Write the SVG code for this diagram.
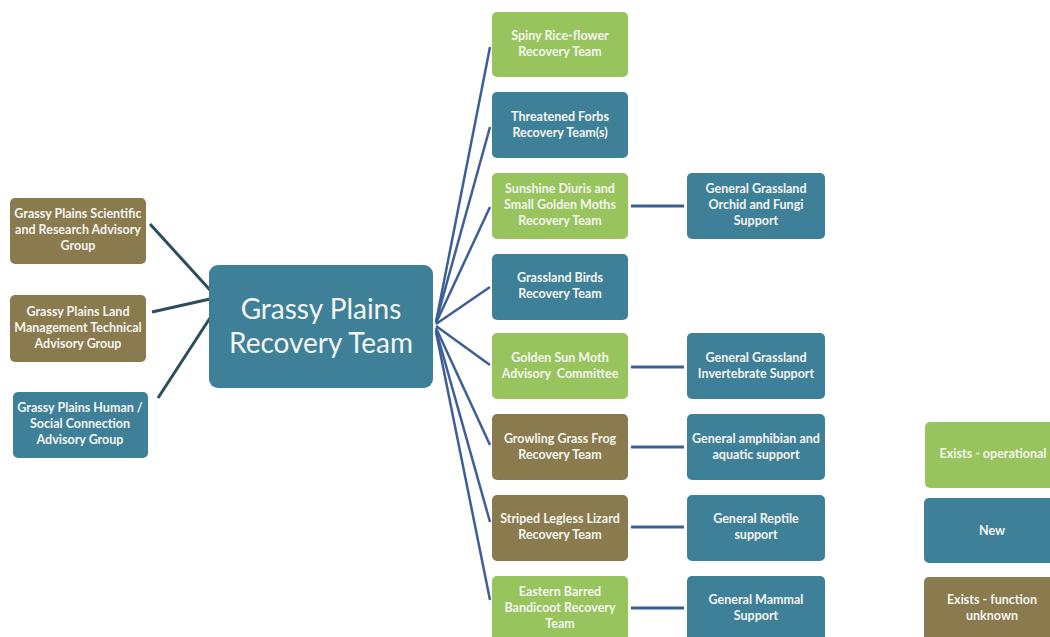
<svg xmlns="http://www.w3.org/2000/svg" width="1050" height="637" viewBox="0 0 1050 637">
<style>
.g{fill:#97c45c}
.b{fill:#3f8099}
.o{fill:#897b4e}
text{font-family:Lato,"Open Sans","Liberation Sans",sans-serif;fill:#f4f4f0;text-anchor:middle;font-weight:bold;font-size:12.5px}
.big{font-size:28px;font-weight:normal}
.fan{stroke:#3d5f98;stroke-width:2.5;fill:none}
.lft{stroke:#2b4d5c;stroke-width:3;fill:none}
.h{stroke:#3d5f98;stroke-width:3;fill:none}
</style>
<rect width="1050" height="637" fill="#ffffff"/>
<g id="connectors">
<line class="lft" x1="150" y1="224" x2="210" y2="290"/>
<line class="lft" x1="152" y1="312" x2="210" y2="299"/>
<line class="lft" x1="158" y1="398" x2="210" y2="318"/>
<line class="fan" x1="436" y1="322" x2="490" y2="47"/>
<line class="fan" x1="436" y1="322" x2="490" y2="127"/>
<line class="fan" x1="436" y1="323" x2="490" y2="207"/>
<line class="fan" x1="436" y1="324" x2="490" y2="287"/>
<line class="fan" x1="436" y1="326" x2="490" y2="365"/>
<line class="fan" x1="436" y1="328" x2="490" y2="445"/>
<line class="fan" x1="436" y1="330" x2="490" y2="522"/>
<line class="fan" x1="436" y1="332" x2="490" y2="600"/>
<line class="h" x1="631" y1="206" x2="684" y2="206"/>
<line class="h" x1="631" y1="367" x2="684" y2="367"/>
<line class="h" x1="631" y1="447" x2="684" y2="447"/>
<line class="h" x1="631" y1="527" x2="684" y2="527"/>
<line class="h" x1="631" y1="608" x2="684" y2="608"/>
</g>
<g id="main"><rect class="b" x="209" y="265" width="224" height="123" rx="9"/><text class="big" x="321" y="319">Grassy Plains</text><text class="big" x="321" y="353">Recovery Team</text></g>
<g id="scientific"><rect class="o" x="10" y="198" width="136" height="66" rx="5"/><text x="78" y="218">Grassy Plains Scientific</text><text x="78" y="234">and Research Advisory</text><text x="78" y="250">Group</text></g>
<g id="land"><rect class="o" x="10" y="295" width="136" height="67" rx="5"/><text x="78" y="316">Grassy Plains Land</text><text x="78" y="332">Management Technical</text><text x="78" y="348">Advisory Group</text></g>
<g id="human"><rect class="b" x="13" y="392" width="135" height="66" rx="5"/><text x="80" y="412">Grassy Plains Human /</text><text x="80" y="428">Social Connection</text><text x="80" y="444">Advisory Group</text></g>
<g id="spiny"><rect class="g" x="492" y="12" width="136" height="65" rx="5"/><text x="560" y="40">Spiny Rice-flower</text><text x="560" y="56">Recovery Team</text></g>
<g id="forbs"><rect class="b" x="492" y="92" width="136" height="66" rx="5"/><text x="560" y="121">Threatened Forbs</text><text x="560" y="137">Recovery Team(s)</text></g>
<g id="sunshine"><rect class="g" x="492" y="173" width="136" height="66" rx="5"/><text x="560" y="193">Sunshine Diuris and</text><text x="560" y="209">Small Golden Moths</text><text x="560" y="225">Recovery Team</text></g>
<g id="birds"><rect class="b" x="492" y="254" width="136" height="66" rx="5"/><text x="560" y="282">Grassland Birds</text><text x="560" y="298">Recovery Team</text></g>
<g id="goldensun"><rect class="g" x="492" y="333" width="136" height="66" rx="5"/><text x="560" y="362">Golden Sun Moth</text><text x="560" y="378" xml:space="preserve">Advisory  Committee</text></g>
<g id="frog"><rect class="o" x="492" y="414" width="136" height="66" rx="5"/><text x="560" y="443">Growling Grass Frog</text><text x="560" y="459">Recovery Team</text></g>
<g id="lizard"><rect class="o" x="492" y="495" width="136" height="66" rx="5"/><text x="560" y="523">Striped Legless Lizard</text><text x="560" y="539">Recovery Team</text></g>
<g id="bandicoot"><rect class="g" x="492" y="576" width="136" height="70" rx="5"/><text x="560" y="596">Eastern Barred</text><text x="560" y="612">Bandicoot Recovery</text><text x="560" y="628">Team</text></g>
<g id="orchid"><rect class="b" x="687" y="173" width="138" height="66" rx="5"/><text x="756" y="193">General Grassland</text><text x="756" y="209">Orchid and Fungi</text><text x="756" y="225">Support</text></g>
<g id="invert"><rect class="b" x="687" y="333" width="138" height="66" rx="5"/><text x="756" y="362">General Grassland</text><text x="756" y="378">Invertebrate Support</text></g>
<g id="amphibian"><rect class="b" x="687" y="414" width="138" height="66" rx="5"/><text x="756" y="443">General amphibian and</text><text x="756" y="459">aquatic support</text></g>
<g id="reptile"><rect class="b" x="687" y="495" width="138" height="66" rx="5"/><text x="756" y="523">General Reptile</text><text x="756" y="539">support</text></g>
<g id="mammal"><rect class="b" x="687" y="576" width="138" height="70" rx="5"/><text x="756" y="604">General Mammal</text><text x="756" y="620">Support</text></g>
<g id="legend-operational"><rect class="g" x="925" y="422" width="140" height="66" rx="5"/><text x="993" y="458">Exists - operational</text></g>
<g id="legend-new"><rect class="b" x="924" y="498" width="140" height="65" rx="5"/><text x="992" y="535">New</text></g>
<g id="legend-unknown"><rect class="o" x="924" y="577" width="140" height="70" rx="5"/><text x="992" y="604">Exists - function</text><text x="992" y="620">unknown</text></g>
</svg>
